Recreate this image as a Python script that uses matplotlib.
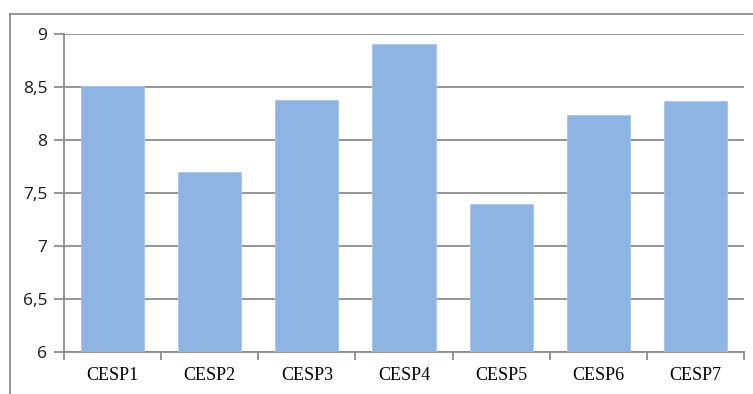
import numpy as np
import matplotlib
matplotlib.use('Agg')
import matplotlib.pyplot as plt
from matplotlib.lines import Line2D

categories = ['CESP1', 'CESP2', 'CESP3', 'CESP4', 'CESP5', 'CESP6', 'CESP7']
values = [8.51, 7.70, 8.38, 8.91, 7.40, 8.24, 8.37]
y_ticks = [6, 6.5, 7, 7.5, 8, 8.5, 9]

BAR_COLOR = '#8EB4E3'
GRID_COLOR = '#8C8C8C'

fig = plt.figure(figsize=(7.53, 3.94), dpi=100)
ax = fig.add_axes([0.085, 0.1066, 0.903, 0.8064])

x = np.arange(len(categories))
ax.bar(x, values, width=0.65, color=BAR_COLOR, edgecolor='#A9C6EA',
       linewidth=0.6, zorder=3)

ax.set_xlim(-0.5, len(categories) - 0.5)
ax.set_ylim(6, 9)
ax.set_yticks(y_ticks)
ax.set_yticklabels([f'{v:g}'.replace('.', ',') for v in y_ticks],
                   fontsize=12.5, family='Open Sans', color='#1A1A1A')
ax.yaxis.grid(True, color=GRID_COLOR, linewidth=1.3, zorder=0)

# category labels centred, tick marks on category boundaries
ax.set_xticks(x)
ax.set_xticklabels(categories, fontsize=13, family='Liberation Serif')
ax.tick_params(axis='x', length=0, pad=11)
ax.set_xticks(np.arange(len(categories) + 1) - 0.5, minor=True)
ax.tick_params(axis='x', which='minor', length=6, width=1.3, color=GRID_COLOR,
               direction='out')
ax.tick_params(axis='y', length=7, width=1.3, color=GRID_COLOR, pad=5)

for side in ['top', 'right']:
    ax.spines[side].set_visible(False)
for side in ['left', 'bottom']:
    ax.spines[side].set_color(GRID_COLOR)
    ax.spines[side].set_linewidth(1.3)

# chart frame (top and left edges)
fig.add_artist(Line2D([10 / 753, 1.0], [1 - 14 / 394, 1 - 14 / 394],
                      transform=fig.transFigure, color='#8C8C8C', linewidth=1.3))
fig.add_artist(Line2D([10 / 753, 10 / 753], [0, 1 - 14 / 394],
                      transform=fig.transFigure, color='#8C8C8C', linewidth=1.3))

fig.savefig('out.png', dpi=100)
